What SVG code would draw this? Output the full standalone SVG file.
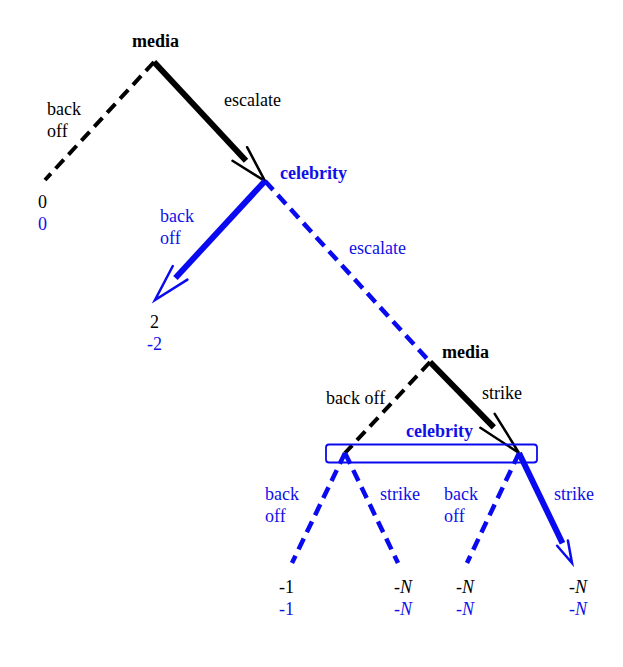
<svg xmlns="http://www.w3.org/2000/svg" width="623" height="667" viewBox="0 0 623 667">
<style>
text{font-family:"Liberation Serif","Times New Roman",serif;font-size:18px}
.k{fill:#000}
.b{fill:#1010e8}
.bold{font-weight:bold}
.ks{stroke:#000;stroke-width:6;fill:none}
.kd{stroke:#000;stroke-width:4;stroke-dasharray:12 7;fill:none}
.bs{stroke:#0a0af0;stroke-width:6;fill:none}
.bd{stroke:#0a0af0;stroke-width:4.5;stroke-dasharray:12 7;fill:none}
.ka{stroke:#000;stroke-width:2.5;fill:none;stroke-linecap:round;stroke-linejoin:miter}
.ba{stroke:#0a0af0;stroke-width:2.5;fill:none;stroke-linecap:round;stroke-linejoin:miter}
</style>
<rect width="623" height="667" fill="#fff"/>
<g id="connectors">
  <line class="kd" x1="154" y1="62" x2="45" y2="180"/>
  <line class="ks" x1="154" y1="62" x2="246" y2="160.7"/>
  <path class="ka" d="M247.1,147.2 L265,181 L232.5,160.8"/>
  <line class="bs" x1="265" y1="181" x2="175.4" y2="278"/>
  <path class="ba" d="M187.4,279.6 L155,300 L172.8,266"/>
  <line class="bd" x1="265" y1="181" x2="430" y2="362"/>
  <line class="kd" x1="430" y1="362" x2="345" y2="453"/>
  <line class="ks" x1="430" y1="362" x2="493.8" y2="427.3"/>
  <path class="ka" d="M494.7,413.8 L519,453 L480.4,427.8"/>
  <line class="bd" x1="345" y1="453" x2="292" y2="563"/>
  <line class="bd" x1="345" y1="453" x2="398" y2="563"/>
  <line class="bd" x1="519" y1="453" x2="467" y2="563"/>
  <line class="bs" x1="519" y1="453" x2="562.5" y2="543.2"/>
  <path class="ba" d="M567.9,540.6 L572,563 L557.1,545.8"/>
</g>
<g id="node-media-root">
  <text class="k bold" x="132" y="47">media</text>
</g>
<g id="node-celebrity-1">
  <text class="b bold" x="280" y="179">celebrity</text>
</g>
<g id="node-media-2">
  <text class="k bold" x="442" y="358">media</text>
</g>
<g id="node-celebrity-infoset">
  <rect x="326" y="444.5" width="211" height="18" rx="3" fill="none" stroke="#0a0af0" stroke-width="1.8"/>
  <text class="b bold" x="406" y="437">celebrity</text>
</g>
<g id="labels">
  <text class="k" x="47" y="115">back</text>
  <text class="k" x="47" y="137">off</text>
  <text class="k" x="224" y="106">escalate</text>
  <text class="b" x="160" y="222">back</text>
  <text class="b" x="160" y="244">off</text>
  <text class="b" x="349" y="254">escalate</text>
  <text class="k" x="326" y="404">back off</text>
  <text class="k" x="482" y="399">strike</text>
  <text class="b" x="265" y="500">back</text>
  <text class="b" x="265" y="522">off</text>
  <text class="b" x="380" y="500">strike</text>
  <text class="b" x="444" y="500">back</text>
  <text class="b" x="444" y="522">off</text>
  <text class="b" x="554" y="500">strike</text>
</g>
<g id="payoffs">
  <text class="k" x="38" y="208">0</text>
  <text class="b" x="38" y="230">0</text>
  <text class="k" x="150" y="328">2</text>
  <text class="b" x="147" y="350">-2</text>
  <text class="k" x="279" y="593">-1</text>
  <text class="b" x="279" y="615">-1</text>
  <text class="k" x="394" y="593">-<tspan font-style="italic">N</tspan></text>
  <text class="b" x="394" y="615">-<tspan font-style="italic">N</tspan></text>
  <text class="k" x="456" y="593">-<tspan font-style="italic">N</tspan></text>
  <text class="b" x="456" y="615">-<tspan font-style="italic">N</tspan></text>
  <text class="k" x="569" y="593">-<tspan font-style="italic">N</tspan></text>
  <text class="b" x="569" y="615">-<tspan font-style="italic">N</tspan></text>
</g>
</svg>
